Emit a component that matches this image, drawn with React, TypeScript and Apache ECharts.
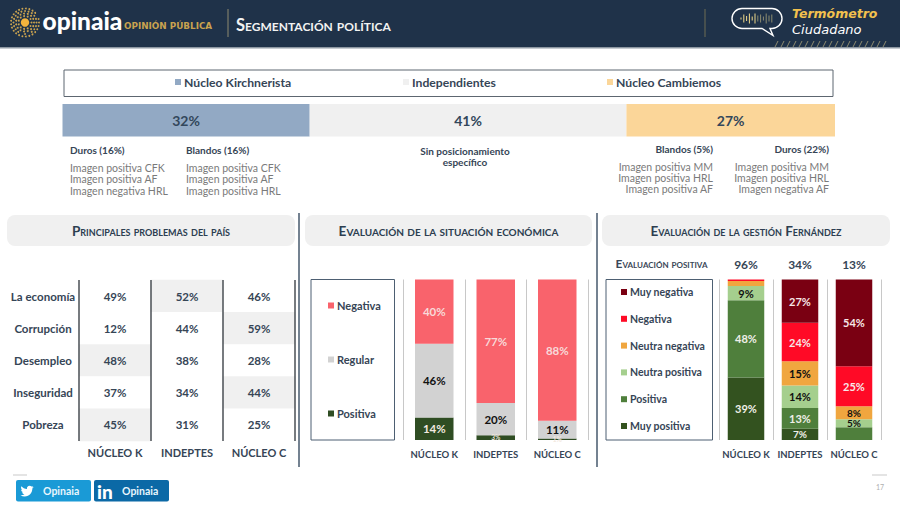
import React, { useEffect, useRef } from "react";
import * as echarts from "echarts";

// ---------- data ----------
const segmentNames = ["Núcleo Kirchnerista", "Independientes", "Núcleo Cambiemos"];
const segmentValues = [32, 41, 27];
const columns = ["NÚCLEO K", "INDEPTES", "NÚCLEO C"];

const problems = ["La economía", "Corrupción", "Desempleo", "Inseguridad", "Pobreza"];
const problemsK = [49, 12, 48, 37, 45];
const problemsI = [52, 44, 38, 34, 31];
const problemsC = [46, 59, 28, 44, 25];
const problemsHighlightColumn = [1, 2, 0, 2, 0];

const econNames = ["Positiva", "Regular", "Negativa"];
const econPositiva = [14, 3, 1];
const econRegular = [46, 20, 11];
const econNegativa = [40, 77, 88];

const gestionNames = ["Muy positiva", "Positiva", "Neutra positiva", "Neutra negativa", "Negativa", "Muy negativa"];
const gestionMuyPositiva = [39, 7, 0];
const gestionPositiva = [48, 13, 8];
const gestionNeutraPositiva = [9, 14, 5];
const gestionNeutraNegativa = [3, 15, 8];
const gestionNegativa = [1, 24, 25];
const gestionMuyNegativa = [0, 27, 54];
const gestionTotals = ["96%", "34%", "13%"];
// labels left out in the reference: [series, column]
const gestionUnlabelled = [[1, 2], [3, 0], [4, 0], [5, 0], [0, 2]];

const textBlocksLeft = [
  { x: 70, head: "Duros (16%)", lines: ["Imagen positiva CFK", "Imagen positiva AF", "Imagen negativa HRL"] },
  { x: 186, head: "Blandos (16%)", lines: ["Imagen positiva CFK", "Imagen positiva AF", "Imagen positiva HRL"] },
];
const textBlocksRight = [
  { x: 713, head: "Blandos (5%)", lines: ["Imagen positiva MM", "Imagen positiva HRL", "Imagen positiva AF"] },
  { x: 829, head: "Duros (22%)", lines: ["Imagen positiva MM", "Imagen positiva HRL", "Imagen negativa AF"] },
];

// ---------- style ----------
const F = "Lato";
const DARK = "#364556";
const GREY = "#7a7a7a";
const segmentColors = ["#92a9c4", "#f0f0f0", "#fbd699"];
const econColors = ["#2f4d23", "#d2d2d2", "#f9636c"];
const econLabel = ["#f3e9e0", "#111111", "#f8d9d9"];
const gestionColors = ["#33521f", "#4f7f3c", "#a5cf8e", "#f0a63f", "#ff0a26", "#7a0012"];
const gestionLabel = ["#f0f0e8", "#efefe8", "#111111", "#111111", "#f7e8e8", "#f7e8e8"];

const BIRD =
  "M23.953 4.57a10 10 0 0 1-2.825.775 4.958 4.958 0 0 0 2.163-2.723c-.951.555-2.005.959-3.127 1.184a4.92 4.92 0 0 0-8.384 4.482C7.69 8.095 4.067 6.13 1.64 3.162a4.822 4.822 0 0 0-.666 2.475c0 1.71.87 3.213 2.188 4.096a4.904 4.904 0 0 1-2.228-.616v.06a4.923 4.923 0 0 0 3.946 4.827 4.996 4.996 0 0 1-2.212.085 4.936 4.936 0 0 0 4.604 3.417 9.867 9.867 0 0 1-6.102 2.105c-.39 0-.779-.023-1.17-.067a13.995 13.995 0 0 0 7.557 2.209c9.053 0 13.998-7.496 13.998-13.985 0-.21 0-.42-.015-.63A9.935 9.935 0 0 0 24 4.59z";
const BUBBLE =
  "M10 0H40A10 10 0 0 1 50 10A10 10 0 0 1 40 20H38L41 27L30 20H10A10 10 0 0 1 0 10A10 10 0 0 1 10 0Z";
echarts.graphic.registerShape("opinaiaBird", echarts.graphic.extendPath(BIRD, {}));
echarts.graphic.registerShape("opinaiaBubble", echarts.graphic.extendPath(BUBBLE, {}));

function txt(text: string, x: number, y: number, font: string, fill: string, align = "left") {
  return {
    type: "text",
    style: { text, x, y, font, fill, align, textAlign: align, verticalAlign: "middle", textVerticalAlign: "middle" },
  };
}
function rect(x: number, y: number, width: number, height: number, fill: string, r = 0, stroke?: string, lw = 1) {
  return {
    type: "rect",
    shape: { x, y, width, height, r },
    style: { fill, stroke: stroke || "none", lineWidth: lw },
  };
}
function vline(x: number, y1: number, y2: number, stroke: string, lw = 1) {
  return { type: "line", shape: { x1: x, y1, x2: x, y2 }, style: { stroke, lineWidth: lw } };
}

function buildGraphics() {
  const els: any[] = [];
  // header
  els.push(rect(0, 0, 900, 47, "#1f3249"));
  els.push(rect(0, 47, 900, 1.5, "#8d97a2"));
  // sun logo
  const rings = [[6.5, 11], [9, 15], [11.5, 20], [14, 25]];
  rings.forEach(([r, n]) => {
    for (let i = 0; i < n; i++) {
      const a = (i / n) * Math.PI * 2;
      els.push({
        type: "circle",
        shape: { cx: 25 + r * Math.cos(a), cy: 22.5 + r * Math.sin(a), r: 0.95 },
        style: { fill: "#c9a24f" },
      });
    }
  });
  els.push({ type: "circle", shape: { cx: 25, cy: 22.5, r: 4.2 }, style: { fill: "#f2b33d" } });
  els.push(txt("opinaia", 42.5, 20.5, `900 24.5px ${F}`, "#ffffff"));
  els.push(txt("OPINIÓN PÚBLICA", 124, 26, "700 8.8px 'DejaVu Sans'", "#c9a24f"));
  els.push(vline(228, 9, 37, "#8f8a70", 1));
  els.push(txt("Segmentación política", 236, 24.5, `small-caps 700 16.5px ${F}`, "#f2f2f2"));
  els.push(vline(705, 9, 37, "#6f6c55", 1));
  els.push({
    type: "opinaiaBubble",
    x: 732,
    y: 8.5,
    style: { fill: "none", stroke: "#ffffff", lineWidth: 1.4 },
  });
  [1, 4, 2.5, 5, 2, 5, 3, 4, 2, 5, 3, 4].forEach((h, i) => {
    els.push(vline(741 + i * 2.8, 18.5 - h, 18.5 + h, i < 6 ? "#f0d98a" : "#8c8c70", 1));
  });
  els.push(txt("Termómetro", 792, 13.5, "italic 700 12.5px 'DejaVu Sans'", "#f2c14e"));
  els.push(txt("Ciudadano", 792, 29, "italic 400 13px 'DejaVu Sans'", "#ffffff"));
  for (let i = 0; i < 19; i++) {
    els.push({
      type: "line",
      shape: { x1: 775 + i * 6, y1: 47, x2: 778 + i * 6, y2: 41 },
      style: { stroke: "#8d8a70", lineWidth: 1 },
    });
  }

  // legend box at top
  els.push(rect(64, 70, 769, 26.5, "none", 0, "#5d6670", 1));

  // descriptive texts
  const H = `700 10px ${F}`;
  const L = `400 10.5px ${F}`;
  textBlocksLeft.forEach((b) => {
    els.push(txt(b.head, b.x, 149.5, H, DARK));
    b.lines.forEach((l, i) => els.push(txt(l, b.x, 167.5 + i * 11.5, L, GREY)));
  });
  textBlocksRight.forEach((b) => {
    els.push(txt(b.head, b.x, 148.5, H, DARK, "right"));
    b.lines.forEach((l, i) => els.push(txt(l, b.x, 166.5 + i * 11.2, L, GREY, "right")));
  });
  els.push(txt("Sin posicionamiento", 465, 150.5, H, DARK, "center"));
  els.push(txt("específico", 465, 162, H, DARK, "center"));

  // section pills
  els.push(rect(7, 215, 288, 31, "#f0f0f0", 8));
  els.push(rect(305, 215, 287, 31, "#f0f0f0", 8));
  els.push(rect(602, 215, 288, 31, "#f0f0f0", 8));
  els.push(txt("Principales problemas del país", 151, 231, `small-caps 700 13.55px ${F}`, "#2c3e50", "center"));
  els.push(txt("Evaluación de la situación económica", 448.5, 231, `small-caps 700 13.6px ${F}`, "#2c3e50", "center"));
  els.push(txt("Evaluación de la gestión Fernández", 746, 231, `small-caps 700 13.5px ${F}`, "#2c3e50", "center"));
  els.push(vline(299, 213, 467, "#46596d", 1.5));
  els.push(vline(597, 213, 467, "#46596d", 1.5));

  // legend boxes
  els.push(rect(311, 279.5, 83.5, 160.5, "none", 0, "#4d5f72", 1));
  els.push(rect(606, 279.5, 106.5, 160.5, "none", 0, "#4d5f72", 1));
  els.push(txt("Evaluación positiva", 661.5, 263.5, `small-caps 700 12px ${F}`, "#3a4757", "center"));

  // footer
  els.push(rect(13, 474.5, 14, 1, "#c9c9c9"));
  els.push(rect(16, 480, 75, 21.5, "#1a9ad6", 2));
  els.push(rect(94, 480, 75, 21.5, "#0b69a6", 2));
  els.push({
    type: "opinaiaBird",
    x: 20.5,
    y: 484.5,
    scaleX: 0.55,
    scaleY: 0.55,
    style: { fill: "#ffffff" },
  });
  els.push(txt("Opinaia", 43, 491, `700 10.5px ${F}`, "#e8f6fd"));
  els.push(txt("in", 97, 491, `900 19px ${F}`, "#ffffff"));
  els.push(txt("Opinaia", 122, 490.5, `700 10.5px ${F}`, "#e8f6fd"));
  els.push(rect(872, 474.5, 15, 1, "#c9c9c9"));
  els.push(txt("17", 880, 487, `400 7px ${F}`, "#b0b0b0", "center"));
  return els;
}

const hiddenAxis = (gridIndex: number, type: string, extra: any = {}) => ({
  type,
  gridIndex,
  show: false,
  ...extra,
});

function stackedColumn(
  name: string,
  values: number[],
  idx: number,
  grid: number,
  stack: string,
  color: string,
  labelColor: string,
  barWidth: number,
  fontSize: number,
  unlabelled: number[][],
) {
  return {
    type: "bar",
    name,
    stack,
    xAxisIndex: grid,
    yAxisIndex: grid,
    barWidth,
    itemStyle: { color },
    label: {
      show: true,
      position: "inside",
      formatter: "{c}%",
      color: labelColor,
      fontFamily: F,
      fontWeight: 700,
      fontSize,
    },
    data: values.map((v, col) => {
      const off = unlabelled.some(([s, c]) => s === idx && c === col);
      if (off) return { value: v, label: { show: false } };
      // slim segments hold a smaller label
      if (v <= 3) return { value: v, label: { fontSize: 6.5 } };
      return v <= 8 ? { value: v, label: { fontSize: 10 } } : v;
    }),
  };
}

function buildOption() {
  const problemColumns = [problemsK, problemsI, problemsC];
  const cells: number[][] = [];
  problems.forEach((_, row) => {
    problemColumns.forEach((col, c) => {
      cells.push([c, row, col[row], problemsHighlightColumn[row] === c ? 1 : 0]);
    });
  });

  const catX = (grid: number, fontSize: number, lineColor: string, lineWidth: number, margin: number) => ({
    type: "category",
    gridIndex: grid,
    z: 3,
    data: columns,
    axisLine: { show: false },
    axisTick: { show: false },
    axisLabel: { color: DARK, fontFamily: F, fontWeight: 700, fontSize, margin, interval: 0 },
    splitLine: { show: true, lineStyle: { color: lineColor, width: lineWidth } },
  });

  const legendItem = (name: string, left: number, top: number, color: string) => ({
    show: true,
    left,
    top,
    selectedMode: false,
    icon: "rect",
    itemWidth: 6,
    itemHeight: 6,
    itemGap: 0,
    padding: 0,
    data: [{ name, itemStyle: { color } }],
    textStyle: { color: DARK, fontFamily: F, fontWeight: 700, fontSize: 12.2, padding: [0, 0, 0, -2] },
  });
  const legendList = (names: string[], colors: string[], left: number, top: number, gap: number, fontSize: number) => ({
    show: true,
    left,
    top,
    orient: "vertical",
    selectedMode: false,
    icon: "rect",
    itemWidth: 6,
    itemHeight: 6,
    itemGap: gap,
    padding: 0,
    data: names.map((name) => ({ name, itemStyle: { color: colors[names.indexOf(name)] } })),
    textStyle: { color: DARK, fontFamily: F, fontWeight: 700, fontSize, padding: [0, 0, 0, -2] },
  });

  const econSeries = [econPositiva, econRegular, econNegativa].map((v, i) =>
    stackedColumn(econNames[i], v, i, 2, "econ", econColors[i], econLabel[i], 38.5, 11.5, []),
  );
  const gestionSeries = [
    gestionMuyPositiva,
    gestionPositiva,
    gestionNeutraPositiva,
    gestionNeutraNegativa,
    gestionNegativa,
    gestionMuyNegativa,
  ].map((v, i) =>
    stackedColumn(gestionNames[i], v, i, 3, "gestion", gestionColors[i], gestionLabel[i], 36.5, 11, gestionUnlabelled),
  );

  const reversedGestion = [...gestionNames].reverse();
  const reversedGestionColors = [...gestionColors].reverse();
  const reversedEcon = [...econNames].reverse();
  const reversedEconColors = [...econColors].reverse();

  return {
    animation: false,
    backgroundColor: "#ffffff",
    grid: [
      { left: 62.5, top: 104, width: 772.5, height: 32.5 },
      { left: 79, top: 280, width: 216, height: 161 },
      { left: 403.5, top: 279.5, width: 184.5, height: 160.5 },
      { left: 719, top: 279.5, width: 162, height: 160.5 },
    ],
    xAxis: [
      hiddenAxis(0, "value", { min: 0, max: 100 }),
      catX(1, 11, "#4a4f55", 1.5, 6),
      catX(2, 9.5, "#c8c8c8", 1, 9),
      catX(3, 9.5, "#c8c8c8", 1, 9),
      {
        type: "category",
        gridIndex: 3,
        position: "top",
        data: gestionTotals,
        axisLine: { show: false },
        axisTick: { show: false },
        axisLabel: { color: DARK, fontFamily: F, fontWeight: 700, fontSize: 12, margin: 9, interval: 0 },
        splitLine: { show: false },
      },
    ],
    yAxis: [
      hiddenAxis(0, "category", { data: ["Total"] }),
      {
        type: "category",
        gridIndex: 1,
        inverse: true,
        data: problems,
        axisLine: { show: false },
        axisTick: { show: false },
        axisLabel: {
          color: DARK,
          fontFamily: F,
          fontWeight: 700,
          fontSize: 11.5,
          align: "center",
          margin: 36,
          interval: 0,
        },
        splitLine: { show: false },
      },
      hiddenAxis(2, "value", { min: 0, max: 100 }),
      hiddenAxis(3, "value", { min: 0, max: 100 }),
    ],
    visualMap: [
      {
        type: "piecewise",
        show: false,
        seriesIndex: 3,
        dimension: 3,
        pieces: [
          { value: 0, color: "#ffffff" },
          { value: 1, color: "#f0f0f0" },
        ],
      },
    ],
    legend: [
      legendItem(segmentNames[0], 175, 76, segmentColors[0]),
      legendItem(segmentNames[1], 403, 76, "#f0f0f0"),
      legendItem(segmentNames[2], 607, 76, segmentColors[2]),
      legendList(reversedEcon, reversedEconColors, 328, 300, 43, 11),
      legendList(reversedGestion, reversedGestionColors, 621, 286.5, 15.8, 10.5),
    ],
    series: [
      ...segmentValues.map((v, i) => ({
        type: "bar",
        name: segmentNames[i],
        stack: "segments",
        xAxisIndex: 0,
        yAxisIndex: 0,
        barWidth: 32.5,
        itemStyle: { color: segmentColors[i] },
        label: {
          show: true,
          position: "inside",
          formatter: "{c}%",
          color: "#33475b",
          fontFamily: F,
          fontWeight: 700,
          fontSize: 14,
        },
        data: [v],
      })),
      {
        type: "heatmap",
        xAxisIndex: 1,
        yAxisIndex: 1,
        data: cells,
        label: {
          show: true,
          color: DARK,
          fontFamily: F,
          fontWeight: 700,
          fontSize: 11.5,
          formatter: (p: any) => `${p.value[2]}%`,
        },
      },
      ...econSeries,
      ...gestionSeries,
    ],
    graphic: { elements: buildGraphics() },
  };
}

export default function App() {
  const ref = useRef<HTMLDivElement>(null);
  useEffect(() => {
    const chart = echarts.init(ref.current!, undefined, { renderer: "svg" });
    chart.setOption(buildOption() as any);
    return () => chart.dispose();
  }, []);
  return <div ref={ref} style={{ position: "absolute", left: 0, top: 0, width: 900, height: 505 }} />;
}
